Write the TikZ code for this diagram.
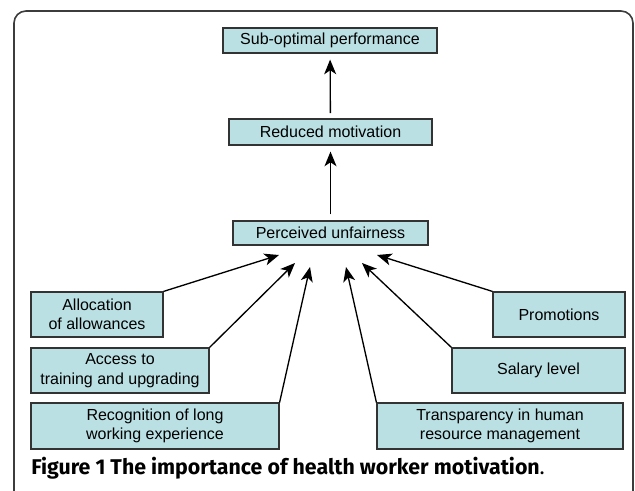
\documentclass[tikz,border=0pt]{standalone}
\usepackage{fontspec}
\setmainfont{Liberation Sans}
\newfontfamily\capfont{Fira Sans}
\usepackage{tikz}
\usetikzlibrary{shapes,arrows.meta,positioning}
\definecolor{boxfill}{RGB}{186,224,227}
\definecolor{framegray}{RGB}{60,60,60}
\tikzset{
  factor/.style={draw=black!80, fill=boxfill, line width=0.9pt, align=center, inner sep=0pt, font=\fontsize{12}{14.5}\selectfont},
  link/.style={->, line width=1pt, >={Stealth[length=11pt,width=9pt,inset=3pt]}}
}

\begin{document}
\begin{tikzpicture}[x=0.75pt, y=-0.75pt]
    \useasboundingbox (0,0) rectangle (635,490);
    \clip (0,0) rectangle (635,490);
    \draw[framegray, line width=1.2pt, rounded corners=9pt] (14,500) -- (14,11) -- (633,11) -- (633,500);

    \node[factor, minimum width=160.5pt, minimum height=18.75pt] (perf) at (330,40.5) {Sub-optimal performance};
    \node[factor, minimum width=152.25pt, minimum height=19.5pt] (motiv) at (330.5,132) {Reduced motivation};
    \node[factor, minimum width=146.25pt, minimum height=18pt] (unfair) at (330.5,233) {Perceived unfairness};

    \node[factor, minimum width=99pt, minimum height=33.75pt] (alloc) at (97,314.5) {Allocation \\ of allowances};
    \node[factor, minimum width=133.5pt, minimum height=33.75pt] (access) at (120,370.5) {Access to \\ training and upgrading};
    \node[factor, minimum width=186pt, minimum height=34.5pt] (recog) at (155,426) {Recognition of long \\ working experience};
    \node[factor, minimum width=99pt, minimum height=33.75pt] (promo) at (559,314.5) {Promotions};
    \node[factor, minimum width=129.75pt, minimum height=33.75pt] (salary) at (538.5,370.5) {Salary level};
    \node[factor, minimum width=184.5pt, minimum height=34.5pt] (transp) at (500,426) {Transparency in human \\ resource management};

    \coordinate (tipA) at (279,255);
    \coordinate (tipB) at (295,263);
    \coordinate (tipC) at (310,267);
    \coordinate (tipD) at (346,267);
    \coordinate (tipE) at (362,263);
    \coordinate (tipF) at (377,255);

    \draw[link, shorten <=4pt, shorten >=4.5pt] (motiv) -- (perf);
    \draw[link, shorten <=4.5pt, shorten >=4.5pt] (unfair) -- (motiv);

    \draw[link] (alloc.north east) -- (tipA);
    \draw[link] (access.north east) -- (tipB);
    \draw[link] (recog.north east) -- (tipC);
    \draw[link] (transp.north west) -- (tipD);
    \draw[link] (salary.north west) -- (tipE);
    \draw[link] (promo.north west) -- (tipF);

    \node[anchor=base west, inner sep=0pt, font=\capfont\fontsize{16}{18}\selectfont] (caption) at (31,474) {\textbf{Figure 1 The importance of health worker motivation}.};
\end{tikzpicture}
\end{document}
